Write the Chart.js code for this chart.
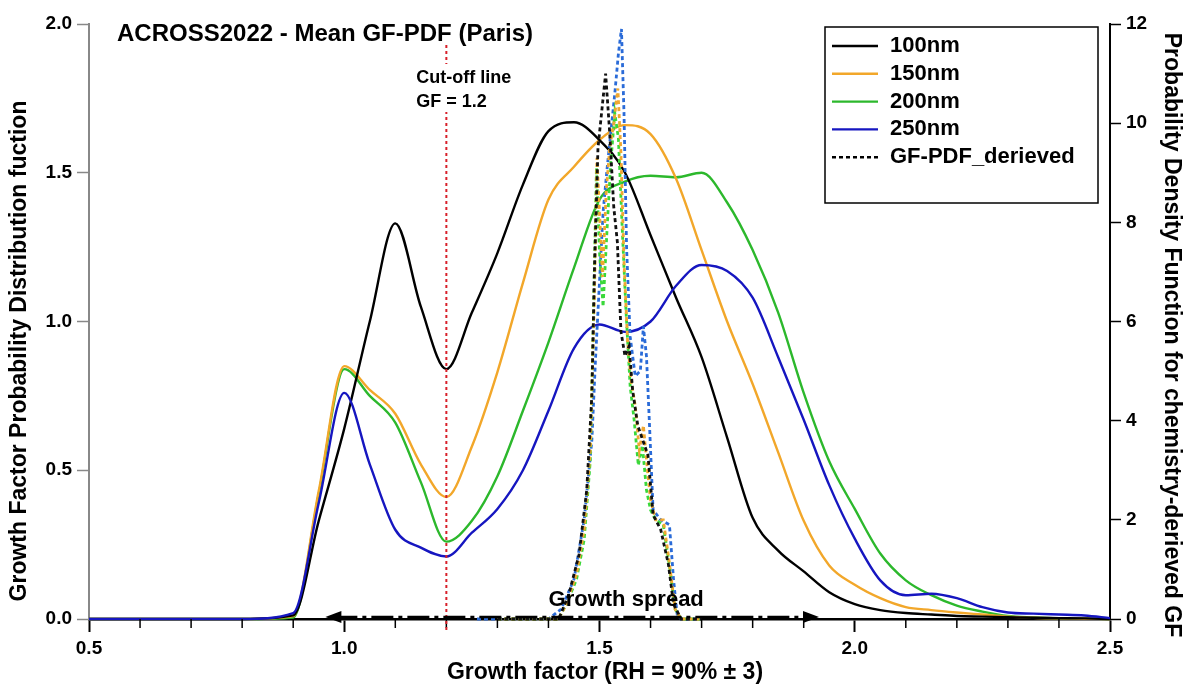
<!DOCTYPE html>
<html>
<head>
<meta charset="utf-8">
<title>ACROSS2022 - Mean GF-PDF (Paris)</title>
<script src="https://cdn.jsdelivr.net/npm/chart.js@4.4.1/dist/chart.umd.min.js"></script>
<style>
  html, body { margin: 0; padding: 0; background: #fff; }
  #wrap { width: 1187px; height: 684px; }
</style>
</head>
<body>
<div id="wrap"><canvas id="gfChart" width="1187" height="684"></canvas></div>
<script>
const FONT = "'Liberation Sans', Arial, Helvetica, sans-serif";

// measured GF-PDFs (left axis), common growth factor grid
const gfGrid = [0.5, 0.6, 0.7, 0.8, 0.9, 0.95, 1.0, 1.05, 1.1, 1.15, 1.2, 1.25, 1.3, 1.35, 1.4, 1.45,
  1.5, 1.55, 1.6, 1.65, 1.7, 1.75, 1.8, 1.85, 1.9, 1.95, 2.0, 2.05, 2.1, 2.15, 2.2, 2.25, 2.3, 2.35,
  2.4, 2.45, 2.5];
const pdf100 = [0, 0, 0, 0, 0.012, 0.33, 0.64, 1.0, 1.33, 1.05, 0.84, 1.03, 1.23, 1.46, 1.64, 1.67,
  1.61, 1.50, 1.29, 1.08, 0.88, 0.61, 0.34, 0.23, 0.16, 0.09, 0.05, 0.03, 0.02, 0.015, 0.01, 0.008,
  0.006, 0.004, 0.003, 0.002, 0];
const pdf150 = [0, 0, 0, 0, 0.01, 0.43, 0.85, 0.77, 0.69, 0.52, 0.41, 0.58, 0.83, 1.13, 1.41, 1.52,
  1.61, 1.66, 1.63, 1.48, 1.24, 1.0, 0.79, 0.56, 0.33, 0.18, 0.115, 0.07, 0.04, 0.03, 0.022, 0.015,
  0.008, 0.004, 0.002, 0.001, 0];
const pdf200 = [0, 0, 0, 0, 0.005, 0.42, 0.84, 0.75, 0.66, 0.46, 0.26, 0.33, 0.48, 0.70, 0.93, 1.18,
  1.41, 1.47, 1.49, 1.485, 1.50, 1.40, 1.24, 1.03, 0.76, 0.53, 0.37, 0.22, 0.13, 0.08, 0.045, 0.025,
  0.01, 0.005, 0.002, 0.001, 0];
const pdf250 = [0, 0, 0, 0, 0.02, 0.39, 0.76, 0.52, 0.30, 0.24, 0.21, 0.29, 0.37, 0.50, 0.70, 0.91,
  0.99, 0.965, 1.00, 1.12, 1.19, 1.17, 1.08, 0.88, 0.67, 0.45, 0.27, 0.13, 0.08, 0.085, 0.07, 0.04,
  0.022, 0.018, 0.015, 0.012, 0.003];

// chemistry-derived GF-PDFs (right axis)
const gfDer100 = [1.30, 1.42, 1.44, 1.46, 1.475, 1.485, 1.49, 1.497, 1.505, 1.512, 1.52, 1.528, 1.535,
  1.542, 1.55, 1.558, 1.565, 1.575, 1.585, 1.595, 1.605, 1.62, 1.635, 1.645, 1.66, 1.70];
const der100 = [0, 0, 0.5, 1.3, 2.6, 4.5, 7.0, 9.5, 10.3, 11.0, 9.8, 8.3, 7.6, 5.8, 5.3, 5.5, 4.6,
  3.9, 3.6, 3.3, 2.1, 1.8, 1.1, 0.3, 0, 0];
const gfDer150 = [1.30, 1.42, 1.435, 1.455, 1.47, 1.482, 1.49, 1.495, 1.50, 1.506, 1.513, 1.52, 1.528,
  1.536, 1.542, 1.548, 1.555, 1.562, 1.57, 1.578, 1.586, 1.594, 1.60, 1.61, 1.625, 1.636, 1.648, 1.66, 1.70];
const der150 = [0, 0, 0.3, 0.9, 1.8, 3.4, 6.5, 9.3, 8.2, 6.9, 8.6, 9.5, 10.0, 10.7, 9.4, 7.2, 5.6,
  4.8, 4.3, 3.4, 3.9, 3.0, 2.4, 2.0, 2.0, 1.2, 0.2, 0, 0];
const gfDer200 = [1.30, 1.42, 1.435, 1.455, 1.47, 1.482, 1.488, 1.494, 1.50, 1.507, 1.515, 1.522, 1.53,
  1.537, 1.544, 1.552, 1.56, 1.568, 1.576, 1.584, 1.592, 1.60, 1.61, 1.625, 1.638, 1.648, 1.66, 1.70];
const der200 = [0, 0, 0.3, 0.8, 1.6, 3.2, 6.0, 9.1, 7.4, 6.3, 7.9, 9.2, 10.2, 9.7, 8.0, 6.2, 4.7,
  4.0, 3.1, 3.5, 2.6, 2.2, 2.0, 1.9, 1.0, 0.2, 0, 0];
const gfDer250 = [1.26, 1.40, 1.425, 1.45, 1.47, 1.485, 1.492, 1.50, 1.507, 1.515, 1.522, 1.53, 1.537,
  1.543, 1.548, 1.553, 1.56, 1.57, 1.58, 1.586, 1.592, 1.598, 1.605, 1.62, 1.637, 1.645, 1.652, 1.66, 1.69];
const der250 = [0, 0, 0.2, 0.8, 2.0, 3.6, 5.2, 6.8, 8.2, 9.1, 9.8, 10.6, 11.4, 11.9, 10.2, 7.5, 5.7,
  4.9, 5.0, 5.9, 5.3, 3.9, 2.2, 2.0, 1.9, 0.8, 0.1, 0, 0];

// axis ticks and annotations
const xTicks = [0.5, 1.0, 1.5, 2.0, 2.5];
const yTicksLeft = [0, 0.5, 1.0, 1.5, 2.0];
const yTicksRight = [0, 2, 4, 6, 8, 10, 12];
const cutoffGF = 1.2;
const spreadGF = [0.963, 1.93];

const legendItems = [
  { label: '100nm', color: '#000000', dash: [] },
  { label: '150nm', color: '#f2a72a', dash: [] },
  { label: '200nm', color: '#2cb82c', dash: [] },
  { label: '250nm', color: '#1616c0', dash: [] },
  { label: 'GF-PDF_derieved', color: '#000000', dash: [4, 3] }
];

const pts = (xs, ys) => xs.map((v, i) => ({ x: v, y: ys[i] }));

function solid(label, ys, color) {
  return {
    label, data: pts(gfGrid, ys), yAxisID: 'y', borderColor: color, borderWidth: 2.4,
    pointRadius: 0, cubicInterpolationMode: 'monotone', clip: 4
  };
}
function dashed(label, xs, ys, color) {
  return {
    label, data: pts(xs, ys), yAxisID: 'y2', borderColor: color, borderWidth: 2.8,
    borderDash: [4, 3], pointRadius: 0, tension: 0, clip: 4
  };
}

const overlay = {
  id: 'overlay',
  afterDraw(chart) {
    const { ctx, chartArea: a, scales: { x } } = chart;
    ctx.save();

    // minor ticks on the x axis
    ctx.strokeStyle = '#000';
    ctx.lineWidth = 1.5;
    for (let i = 6; i < 25; i++) {
      if (i % 5 === 0) continue;
      const px = x.getPixelForValue(i / 10);
      ctx.beginPath();
      ctx.moveTo(px, a.bottom);
      ctx.lineTo(px, a.bottom + 9);
      ctx.stroke();
    }

    // cut-off line
    const cx = x.getPixelForValue(cutoffGF);
    ctx.strokeStyle = '#d8202a';
    ctx.lineWidth = 2;
    ctx.setLineDash([3, 3]);
    ctx.beginPath();
    ctx.moveTo(cx, 45);
    ctx.lineTo(cx, a.bottom + 14);
    ctx.stroke();
    ctx.setLineDash([]);
    ctx.fillStyle = '#fff';
    ctx.fillRect(cx - 34, 64, 124, 48);
    ctx.fillStyle = '#000';
    ctx.font = 'bold 18px ' + FONT;
    ctx.textBaseline = 'middle';
    ctx.textAlign = 'left';
    ctx.fillText('Cut-off line', cx - 30, 78);
    ctx.fillText('GF = 1.2', cx - 30, 102);

    // growth spread arrow
    const x0 = x.getPixelForValue(spreadGF[0]);
    const x1 = x.getPixelForValue(spreadGF[1]);
    const ay = a.bottom - 2;
    ctx.strokeStyle = '#000';
    ctx.lineWidth = 2.5;
    ctx.setLineDash([22, 5, 4, 5]);
    ctx.beginPath();
    ctx.moveTo(x0 + 10, ay);
    ctx.lineTo(x1 - 10, ay);
    ctx.stroke();
    ctx.setLineDash([]);
    ctx.fillStyle = '#000';
    [[x0, 1], [x1, -1]].forEach(([px, d]) => {
      ctx.beginPath();
      ctx.moveTo(px, ay);
      ctx.lineTo(px + d * 16, ay - 6);
      ctx.lineTo(px + d * 16, ay + 6);
      ctx.closePath();
      ctx.fill();
    });
    ctx.font = 'bold 22px ' + FONT;
    ctx.textAlign = 'center';
    ctx.fillText('Growth spread', (x0 + x1) / 2 + 54, a.bottom - 19);

    // title
    ctx.textAlign = 'left';
    ctx.font = 'bold 24px ' + FONT;
    ctx.fillText('ACROSS2022 - Mean GF-PDF (Paris)', 117, 34);

    // axis titles
    ctx.font = 'bold 23px ' + FONT;
    ctx.textAlign = 'center';
    ctx.fillText('Growth factor (RH = 90% \u00b1 3)', 605, 673);
    ctx.save();
    ctx.translate(20, 351);
    ctx.rotate(-Math.PI / 2);
    ctx.fillText('Growth Factor Probability Distribution fuction', 0, 0);
    ctx.restore();
    ctx.save();
    ctx.translate(1171, 335);
    ctx.rotate(Math.PI / 2);
    ctx.fillText('Probability Density Function for chemistry-derieved GF', 0, 0);
    ctx.restore();

    // legend
    ctx.fillStyle = '#fff';
    ctx.fillRect(825, 27, 273, 176);
    ctx.strokeStyle = '#000';
    ctx.lineWidth = 1.5;
    ctx.strokeRect(825, 27, 273, 176);
    ctx.textAlign = 'left';
    ctx.font = 'bold 22px ' + FONT;
    legendItems.forEach((it, i) => {
      const ly = 46 + i * 27.8;
      ctx.strokeStyle = it.color;
      ctx.lineWidth = 2.4;
      ctx.setLineDash(it.dash);
      ctx.beginPath();
      ctx.moveTo(832, ly);
      ctx.lineTo(878, ly);
      ctx.stroke();
      ctx.setLineDash([]);
      ctx.fillStyle = '#000';
      ctx.fillText(it.label, 890, ly);
    });

    ctx.restore();
  }
};

const tickFont = { family: FONT, size: 19, weight: 'bold' };

new Chart(document.getElementById('gfChart').getContext('2d'), {
  type: 'line',
  data: {
    datasets: [
      dashed('GF-PDF_derieved 100nm', gfDer100, der100, '#111111'),
      dashed('GF-PDF_derieved 150nm', gfDer150, der150, '#f0a830'),
      dashed('GF-PDF_derieved 200nm', gfDer200, der200, '#3ad83a'),
      dashed('GF-PDF_derieved 250nm', gfDer250, der250, '#2a6bd8'),
      solid('250nm', pdf250, legendItems[3].color),
      solid('100nm', pdf100, legendItems[0].color),
      solid('150nm', pdf150, legendItems[1].color),
      solid('200nm', pdf200, legendItems[2].color)
    ]
  },
  options: {
    responsive: false,
    animation: false,
    devicePixelRatio: 1,
    layout: { padding: { top: 24, left: 0, right: 0, bottom: 0 } },
    plugins: { legend: { display: false }, tooltip: { enabled: false } },
    scales: {
      x: {
        type: 'linear', min: 0.5, max: 2.5,
        afterBuildTicks: s => { s.ticks = xTicks.map(v => ({ value: v })); },
        ticks: { font: tickFont, color: '#000', padding: 5, callback: v => v.toFixed(1) },
        grid: { drawOnChartArea: false, tickLength: 13, tickColor: '#000', tickWidth: 2 },
        border: { color: '#000', width: 2.5 },
        afterFit: s => { s.height = 65; }
      },
      y: {
        position: 'left', min: 0, max: 2,
        afterBuildTicks: s => { s.ticks = yTicksLeft.map(v => ({ value: v })); },
        ticks: { font: tickFont, color: '#000', padding: 5, callback: v => v.toFixed(1) },
        grid: { drawOnChartArea: false, tickLength: 12, tickColor: '#888', tickWidth: 1.5 },
        border: { color: '#888', width: 2 },
        afterFit: s => { s.width = 89; }
      },
      y2: {
        position: 'right', min: 0, max: 12,
        afterBuildTicks: s => { s.ticks = yTicksRight.map(v => ({ value: v })); },
        ticks: { font: tickFont, color: '#000', padding: 5 },
        grid: { drawOnChartArea: false, tickLength: 11, tickColor: '#000', tickWidth: 1.5 },
        border: { color: '#000', width: 2 },
        afterFit: s => { s.width = 77; }
      }
    }
  },
  plugins: [overlay]
});
</script>
</body>
</html>
